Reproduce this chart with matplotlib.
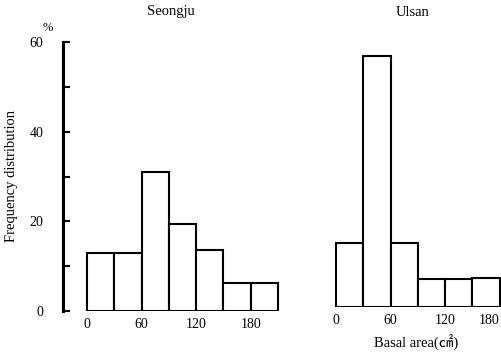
import matplotlib
matplotlib.use('Agg')
import matplotlib.pyplot as plt

plt.rcParams['font.family'] = ['Liberation Serif', 'Noto Sans CJK KR', 'DejaVu Sans']

# basal area classes (cm2), lower edges, 30 wide
seongju_edges = [0, 30, 60, 90, 120, 150, 180]
seongju_freq = [13, 13, 31, 19.5, 13.5, 6.2, 6.2]
ulsan_edges = [0, 30, 60, 90, 120, 150]
ulsan_freq = [14.3, 56, 14.3, 6.2, 6.2, 6.5]
xticks = [0, 60, 120, 180]
yticks = [0, 20, 40, 60]

W, H = 501, 355
fig = plt.figure(figsize=(W / 100, H / 100), dpi=100)

# left panel
ax1 = fig.add_axes([63 / W, 44 / H, 222 / W, 269 / H])
ax1.bar(seongju_edges, seongju_freq, width=30, align='edge',
        facecolor='white', edgecolor='black', linewidth=1.5)
ax1.set_xlim(-26.4, 217.6)
ax1.set_ylim(0, 60)
for s in ['top', 'right', 'bottom']:
    ax1.spines[s].set_visible(False)
ax1.spines['left'].set_linewidth(2.2)
ax1.set_yticks(yticks)
ax1.set_yticks([10, 30, 50], minor=True)
ax1.tick_params(axis='y', which='both', direction='in', length=5, width=1.5,
                labelsize=10, pad=14)
ax1.set_xticks(xticks)
ax1.tick_params(axis='x', length=0, labelsize=10, pad=5)

# right panel
ax2 = fig.add_axes([312 / W, 48 / H, 189 / W, 269 / H])
ax2.bar(ulsan_edges, ulsan_freq, width=30, align='edge',
        facecolor='white', edgecolor='black', linewidth=1.5)
ax2.set_xlim(-26.4, 181.5)
ax2.set_ylim(0, 60)
for s in ax2.spines.values():
    s.set_visible(False)
ax2.set_yticks([])
ax2.set_xticks(xticks)
ax2.tick_params(axis='x', length=0, labelsize=10, pad=5)
ax2.get_xticklabels()[-1].set_ha('right')

fig.text(171 / W, 1 - 12 / H, 'Seongju', ha='center', va='center', fontsize=10.5)
fig.text(413 / W, 1 - 12 / H, 'Ulsan', ha='center', va='center', fontsize=10.5)
fig.text(48 / W, 1 - 28 / H, '%', ha='center', va='center', fontsize=9)
fig.text(12 / W, 1 - 176 / H, 'Frequency distribution', rotation=90,
         ha='center', va='center', fontsize=10.5)
fig.text(416 / W, 1 - 343 / H, 'Basal area(㎠)', ha='center', va='center', fontsize=10.5)

fig.savefig('out.png', dpi=100)
